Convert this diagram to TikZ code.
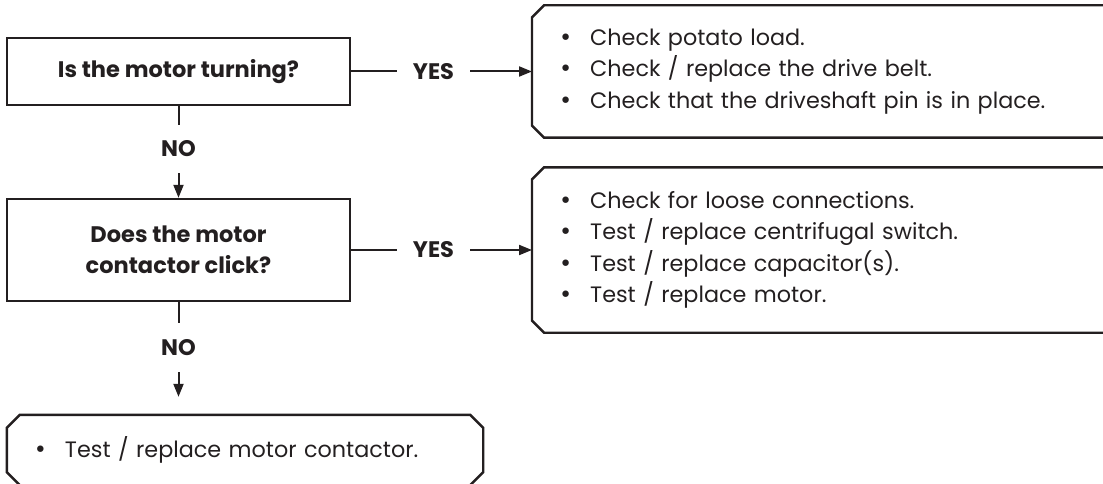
\documentclass[tikz,border=0pt]{standalone}
\usepackage{fontspec}
\setmainfont{Poppins}
\newfontfamily\dotfont{DejaVu Sans}
\usetikzlibrary{arrows.meta}
\definecolor{inkgray}{HTML}{231F20}
\newcommand{\blt}{\makebox[31pt][l]{\dotfont\textbullet}}

\begin{document}
\begin{tikzpicture}[x=1pt, y=1pt, color=inkgray, text=inkgray,
    question/.style={draw, line width=2.4pt, minimum width=343pt, inner sep=0pt,
      align=center, font=\fontsize{22.5}{31}\selectfont\bfseries},
    choice/.style={inner sep=0pt, font=\fontsize{22.5}{24}\selectfont\bfseries},
    answer/.style={inner xsep=27pt, inner ysep=0pt, align=left,
      font=\fontsize{22.3}{31.5}\selectfont},
    frame/.style={line width=2.4pt},
    link/.style={line width=2pt},
    arrowlink/.style={link, -{Triangle[length=13pt,width=10pt]}}]
			\useasboundingbox (0,0) rectangle (1103,483);
			\clip (0,0) rectangle (1103,483);

			% Draw the question boxes
			\node[question, minimum height=67pt] (turning) at (178.5,411.5) {Is the motor turning?};
			\node[question, minimum height=102pt] (click) at (178.5,233) {Does the motor\\contactor click?};

			% Draw the answer words
			\node[choice, minimum height=48pt] (no1) at (178.5,334) {NO};
			\node[choice, minimum height=49pt] (no2) at (178.5,135.5) {NO};
			\node[choice, minimum width=73pt] (yes1) at (433.5,411.5) {YES};
			\node[choice, minimum width=73pt] (yes2) at (433.5,233) {YES};

			% Draw the lists of checks
			\node[answer, text width=540pt, minimum height=132pt, anchor=west] (belt) at (532,411.5)
			{\blt Check potato load.\\ \blt Check / replace the drive belt.\\ \blt Check that the driveshaft pin is in place.};
			\node[answer, text width=540pt, minimum height=165pt, anchor=west] (motor) at (532,233)
			{\blt Check for loose connections.\\ \blt Test / replace centrifugal switch.\\ \blt Test / replace capacitor(s).\\ \blt Test / replace motor.};
			\node[answer, text width=422pt, minimum height=70pt] (contactor) at (245,33)
			{\blt Test / replace motor contactor.};

			% Draw the frames round the lists, open on the right
			\draw[frame] (belt.north east) -- ([xshift=12pt]belt.north west) -- ([yshift=-12pt]belt.north west)
			-- ([yshift=12pt]belt.south west) -- ([xshift=12pt]belt.south west) -- (belt.south east);
			\draw[frame] (motor.north east) -- ([xshift=12pt]motor.north west) -- ([yshift=-12pt]motor.north west)
			-- ([yshift=12pt]motor.south west) -- ([xshift=12pt]motor.south west) -- (motor.south east);
			\draw[frame] ([xshift=13pt]contactor.north west) -- ([xshift=-13pt]contactor.north east)
			-- ([yshift=-13pt]contactor.north east) -- ([yshift=13pt]contactor.south east)
			-- ([xshift=-13pt]contactor.south east) -- ([xshift=13pt]contactor.south west)
			-- ([yshift=13pt]contactor.south west) -- ([yshift=-13pt]contactor.north west) -- cycle;

			% Draw the connectors
			\draw[link] (turning) -- (no1);
			\draw[arrowlink] (no1) -- (click);
			\draw[link] (click) -- (no2);
			\draw[arrowlink, shorten >=18pt] (no2) -- (no2 |- contactor.north);
			\draw[link] (turning) -- (yes1);
			\draw[arrowlink] (yes1) -- (belt);
			\draw[link] (click) -- (yes2);
			\draw[arrowlink] (yes2) -- (motor);
\end{tikzpicture}
\end{document}
